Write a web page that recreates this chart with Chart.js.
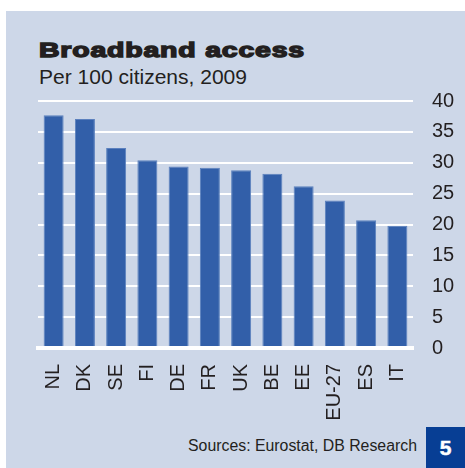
<!DOCTYPE html>
<html>
<head>
<meta charset="utf-8">
<script src="https://cdn.jsdelivr.net/npm/chart.js@4"></script>
<style>
  html, body { margin: 0; padding: 0; background: #ffffff; width: 465px; height: 468px; overflow: hidden; }
  #panel { position: absolute; left: 6px; top: 11px; width: 459px; height: 457px; background: #cdd7e8; }
  .txt { position: absolute; white-space: nowrap; color: #231f20; font-family: "Liberation Sans", Arial, sans-serif; line-height: 1; transform-origin: 0 0; }
  #title { left: 39px; top: 39px; font-size: 21px; font-weight: bold; -webkit-text-stroke: 1.4px #231f20; letter-spacing: 0.6px; }
  #subtitle { left: 39px; top: 67px; font-size: 20px; }
  #source { left: 188px; top: 438px; font-size: 16px; }
  #badge { position: absolute; left: 426px; top: 427px; width: 39px; height: 41px; background: #073e94; color: #fff; font-family: "Liberation Sans", Arial, sans-serif; font-weight: bold; font-size: 21px; line-height: 41px; text-align: center; -webkit-text-stroke: 0.5px #fff; }
  canvas { position: absolute; left: 0; top: 0; }
</style>
</head>
<body>
<div id="panel"></div>
<div class="txt" id="title">Broadband access</div>
<div class="txt" id="subtitle">Per 100 citizens, 2009</div>
<div class="txt" id="source">Sources: Eurostat, DB Research</div>
<div id="badge">5</div>
<canvas id="c" width="465" height="468"></canvas>
<script>
const categories = ["NL", "DK", "SE", "FI", "DE", "FR", "UK", "BE", "EE", "EU-27", "ES", "IT"];
const broadbandPer100 = [37.7, 37.1, 32.4, 30.4, 29.4, 29.2, 28.8, 28.2, 26.2, 23.9, 20.7, 19.8];
const yTicks = [0, 5, 10, 15, 20, 25, 30, 35, 40];

function fitWidth(id, target) {
  const el = document.getElementById(id);
  const w = el.getBoundingClientRect().width;
  el.style.transform = 'scaleX(' + (target / w) + ')';
}
fitWidth('title', 266);
fitWidth('subtitle', 208);
fitWidth('source', 229);

const font = { family: '"Liberation Sans", Arial, sans-serif', size: 20 };

new Chart(document.getElementById('c'), {
  type: 'bar',
  data: {
    labels: categories,
    datasets: [{
      data: broadbandPer100,
      backgroundColor: '#325fa9',
      borderColor: '#5b80be',
      borderWidth: 1,
      categoryPercentage: 1,
      barPercentage: 0.64
    }]
  },
  options: {
    responsive: false,
    devicePixelRatio: 1,
    animation: false,
    layout: { padding: { left: 38, top: 101, right: 0, bottom: 0 } },
    plugins: { legend: { display: false }, tooltip: { enabled: false }, title: { display: false } },
    scales: {
      x: {
        grid: { display: false, drawTicks: false },
        border: { display: true, color: '#ffffff', width: 4, z: 1 },
        ticks: { color: '#231f20', font: font, autoSkip: false, maxRotation: 90, minRotation: 90, padding: 16 },
        afterFit: (s) => { s.height = 120; }
      },
      y: {
        position: 'right',
        min: 0, max: 40,
        afterBuildTicks: (s) => { s.ticks = yTicks.map(v => ({ value: v })); },
        grid: { color: '#ffffff', lineWidth: 2, drawTicks: false },
        border: { display: false },
        ticks: { color: '#231f20', font: font, padding: 19 },
        afterFit: (s) => { s.width = 52; }
      }
    }
  }
});
</script>
</body>
</html>
